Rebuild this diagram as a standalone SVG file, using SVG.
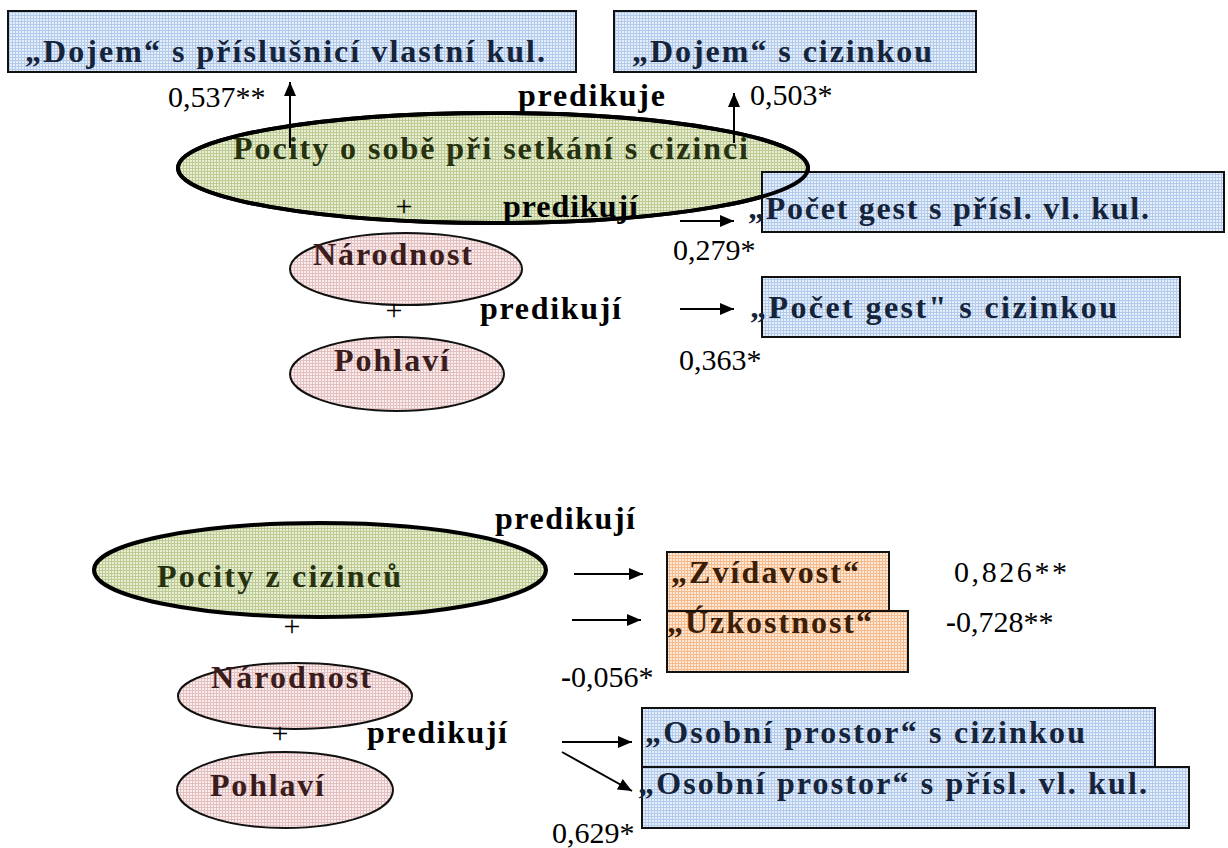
<svg xmlns="http://www.w3.org/2000/svg" width="1228" height="848" viewBox="0 0 1228 848">
<style>
.lbl{font-family:"Liberation Serif","Times New Roman",serif;font-weight:bold;font-size:32px}
.num{font-family:"Liberation Serif","Times New Roman",serif;font-size:30px;fill:#000}
.blk{fill:#000}
.tb{fill:#15243a}
.tg{fill:#26310f}
.tp{fill:#3a1c1c}
.to{fill:#3c1d05}
.box{stroke:#111;stroke-width:2}
.pink{fill:url(#pPink);stroke:#111;stroke-width:2}
.green{fill:url(#pGreen);stroke:#000;stroke-width:4}
.conn{stroke:#000;stroke-width:2;fill:none;marker-end:url(#ah)}
</style>
<defs>
<pattern id="pBlue" width="3" height="3" patternUnits="userSpaceOnUse"><rect width="3" height="3" fill="#e6eefa"/><path d="M0 0.5H3M0.5 0V3" stroke="#b2caec" stroke-width="1"/></pattern>
<pattern id="pGreen" width="3" height="3" patternUnits="userSpaceOnUse"><rect width="3" height="3" fill="#e8edd3"/><path d="M0 0.5H3M0.5 0V3" stroke="#bccb94" stroke-width="1"/></pattern>
<pattern id="pPink" width="3" height="3" patternUnits="userSpaceOnUse"><rect width="3" height="3" fill="#f9eded"/><path d="M0 0.5H3M0.5 0V3" stroke="#e4bfbf" stroke-width="1"/></pattern>
<pattern id="pOrange" width="3" height="3" patternUnits="userSpaceOnUse"><rect width="3" height="3" fill="#feeadb"/><path d="M0 0.5H3M0.5 0V3" stroke="#f6bb8c" stroke-width="1"/></pattern>
<marker id="ah" markerUnits="userSpaceOnUse" markerWidth="14" markerHeight="12" refX="14" refY="6" orient="auto"><path d="M0,0 L14,6 L0,12 z" fill="#000"/></marker>
</defs>

<g id="dojem-vlastni">
<rect class="box" x="8" y="11" width="568" height="61" fill="url(#pBlue)"/>
<text class="lbl tb" x="25" y="62" textLength="520" lengthAdjust="spacing">„Dojem“ s příslušnicí vlastní kul.</text>
</g>
<g id="dojem-cizinka">
<rect class="box" x="614" y="11" width="362" height="61" fill="url(#pBlue)"/>
<text class="lbl tb" x="632" y="62" textLength="300" lengthAdjust="spacing">„Dojem“ s cizinkou</text>
</g>

<g id="pocity-o-sobe">
<ellipse class="green" cx="493" cy="168" rx="315" ry="55"/>
<text class="lbl tg" x="233" y="159" textLength="515" lengthAdjust="spacing">Pocity o sobě při setkání s cizinci</text>
</g>

<g id="pocet-gest-vl">
<rect class="box" x="762" y="172" width="462" height="60" fill="url(#pBlue)"/>
<ellipse cx="493" cy="168" rx="315" ry="55" fill="none" stroke="#000" stroke-width="4"/>
<text class="lbl tb" x="748" y="219" textLength="401" lengthAdjust="spacing">„Počet gest s přísl. vl. kul.</text>
</g>

<g id="narodnost-1">
<ellipse class="pink" cx="406" cy="269" rx="116" ry="36"/>
<text class="lbl tp" x="313" y="265" textLength="159" lengthAdjust="spacing">Národnost</text>
</g>
<g id="pocet-gest-ciz">
<rect class="box" x="762" y="277" width="418" height="60" fill="url(#pBlue)"/>
<text class="lbl tb" x="750" y="318" textLength="367" lengthAdjust="spacing">„Počet gest" s cizinkou</text>
</g>
<g id="pohlavi-1">
<ellipse class="pink" cx="397" cy="374" rx="107" ry="37"/>
<text class="lbl tp" x="334" y="371" textLength="115" lengthAdjust="spacing">Pohlaví</text>
</g>

<g id="pocity-z-cizincu">
<ellipse class="green" cx="320" cy="570" rx="226" ry="47"/>
<text class="lbl tg" x="157" y="587" textLength="244" lengthAdjust="spacing">Pocity z cizinců</text>
</g>
<g id="zvidavost">
<rect class="box" x="667" y="552" width="222" height="60" fill="url(#pOrange)"/>
<text class="lbl to" x="671" y="583" textLength="188" lengthAdjust="spacing">„Zvídavost“</text>
</g>
<g id="uzkostnost">
<rect class="box" x="667" y="611" width="241" height="61" fill="url(#pOrange)"/>
<text class="lbl to" x="667" y="633" textLength="205" lengthAdjust="spacing">„Úzkostnost“</text>
</g>
<g id="narodnost-2">
<ellipse class="pink" cx="295" cy="696" rx="117" ry="33"/>
<text class="lbl tp" x="211" y="688" textLength="160" lengthAdjust="spacing">Národnost</text>
</g>
<g id="pohlavi-2">
<ellipse class="pink" cx="285" cy="790" rx="108" ry="38"/>
<text class="lbl tp" x="210" y="796" textLength="114" lengthAdjust="spacing">Pohlaví</text>
</g>
<g id="osobni-cizinka">
<rect class="box" x="642" y="708" width="513" height="59" fill="url(#pBlue)"/>
<text class="lbl tb" x="645" y="743" textLength="440" lengthAdjust="spacing">„Osobní prostor“ s cizinkou</text>
</g>
<g id="osobni-vlastni">
<rect class="box" x="642" y="767" width="547" height="61" fill="url(#pBlue)"/>
<text class="lbl tb" x="638" y="794" textLength="509" lengthAdjust="spacing">„Osobní prostor“ s přísl. vl. kul.</text>
</g>

<g id="connectors">
<line class="conn" x1="290" y1="148" x2="290" y2="82"/>
<line class="conn" x1="734" y1="143" x2="734" y2="93"/>
<line class="conn" x1="680" y1="221" x2="734" y2="221"/>
<line class="conn" x1="680" y1="309" x2="734" y2="309"/>
<line class="conn" x1="574" y1="574" x2="643" y2="574"/>
<line class="conn" x1="572" y1="620" x2="641" y2="620"/>
<line class="conn" x1="562" y1="742" x2="632" y2="742"/>
<line class="conn" x1="562" y1="752" x2="632" y2="791"/>
</g>

<g id="labels">
<text class="lbl blk" x="518" y="106" textLength="147" lengthAdjust="spacing">predikuje</text>
<text class="lbl blk" x="503" y="217" textLength="135" lengthAdjust="spacing">predikují</text>
<text class="lbl blk" x="480" y="319" textLength="141" lengthAdjust="spacing">predikují</text>
<text class="lbl blk" x="495" y="529" textLength="140" lengthAdjust="spacing">predikují</text>
<text class="lbl blk" x="367" y="743" textLength="140" lengthAdjust="spacing">predikují</text>
<text class="num" x="404" y="216" text-anchor="middle">+</text>
<text class="num" x="394" y="320" text-anchor="middle">+</text>
<text class="num" x="292" y="636" text-anchor="middle">+</text>
<text class="num" x="280" y="743" text-anchor="middle">+</text>
<text class="num" x="168" y="107">0,537**</text>
<text class="num" x="750" y="105">0,503*</text>
<text class="num" x="673" y="260">0,279*</text>
<text class="num" x="679" y="370">0,363*</text>
<text class="num" x="954" y="582" textLength="113" lengthAdjust="spacing">0,826**</text>
<text class="num" x="946" y="632"><tspan font-weight="bold">-</tspan>0,728**</text>
<text class="num" x="561" y="687"><tspan font-weight="bold">-</tspan>0,056*</text>
<text class="num" x="552" y="843">0,629*</text>
</g>
</svg>
